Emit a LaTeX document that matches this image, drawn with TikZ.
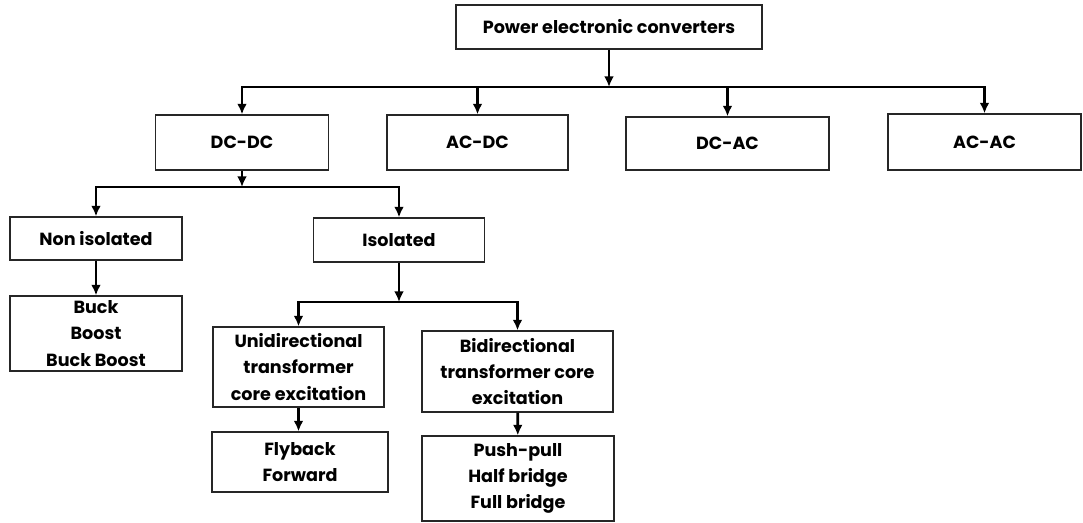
\documentclass[tikz,border=0pt]{standalone}
\usepackage{fontspec}
\setmainfont{Poppins}
\usetikzlibrary{arrows.meta}

\begin{document}
\begin{tikzpicture}[
    x=0.02cm, y=-0.02cm,
    box/.style={draw=black!85, line width=0.7pt, align=center, inner sep=0pt, font=\fontsize{10}{15}\selectfont\bfseries, text=black},
    arrow/.style={-{Latex[length=6pt,width=5.5pt]}, line width=1.5pt, color=black}
]
    \useasboundingbox (0,0) rectangle (1083,522);

    \node[box, minimum width=6.12cm, minimum height=0.88cm] (pec) at (609,27) {Power electronic converters};

    \node[box, minimum width=3.46cm, minimum height=1.10cm] (dcdc) at (242,142.5) {DC-DC};
    \node[box, minimum width=3.62cm, minimum height=1.10cm] (acdc) at (477.5,142.5) {AC-DC};
    \node[box, minimum width=4.06cm, minimum height=1.06cm] (dcac) at (727.5,143.5) {DC-AC};
    \node[box, minimum width=3.86cm, minimum height=1.12cm] (acac) at (984.5,142) {AC-AC};

    \node[box, minimum width=3.44cm, minimum height=0.86cm] (noniso) at (96,238.5) {Non isolated};
    \node[box, minimum width=3.42cm, minimum height=0.88cm] (iso) at (399,240) {Isolated};
    \node[box, minimum width=3.44cm, minimum height=1.50cm] (buck) at (96,333.5) {Buck\\Boost\\Buck Boost};

    \node[box, minimum width=3.42cm, minimum height=1.60cm] (uni) at (298.5,367) {Unidirectional\\transformer\\core excitation};
    \node[box, minimum width=3.82cm, minimum height=1.62cm] (bidi) at (517.5,371.5) {Bidirectional\\transformer core\\excitation};
    \node[box, minimum width=3.52cm, minimum height=1.20cm] (fly) at (300,462) {Flyback\\Forward};
    \node[box, minimum width=3.84cm, minimum height=1.70cm] (push) at (518,478.5) {Push-pull\\Half bridge\\Full bridge};

    \coordinate (bus1) at (609,87);
    \coordinate (bus2) at (242,187);
    \coordinate (bus3) at (399,302);

    \draw[arrow] (pec) -- (bus1);
    \foreach \n in {dcdc, acdc, dcac, acac}
        \draw[arrow] (bus1) -| (\n.north);

    \draw[arrow] (dcdc) -- (bus2);
    \draw[arrow] (bus2) -| (noniso.north);
    \draw[arrow] (bus2) -| (iso.north);
    \draw[arrow] (noniso) -- (buck);

    \draw[arrow] (iso) -- (bus3);
    \draw[arrow] (bus3) -| (uni.north);
    \draw[arrow] (bus3) -| (bidi.north);
    \draw[arrow] (uni.south) -- (uni.south |- fly.north);
    \draw[arrow] (bidi) -- (push);
\end{tikzpicture}
\end{document}
